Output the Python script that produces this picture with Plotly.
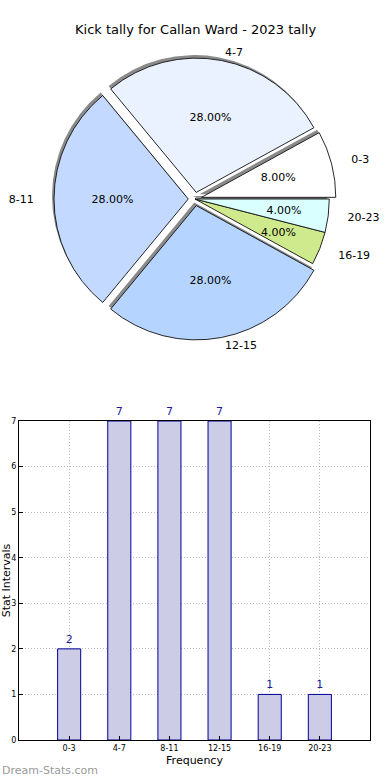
import plotly.graph_objects as go

# ---- data ----
categories = ["0-3", "4-7", "8-11", "12-15", "16-19", "20-23"]
counts = [2, 7, 7, 7, 1, 1]
pie_colors = ["#ffffff", "#eaf1ff", "#c4d9ff", "#b5d4ff", "#cfea8c", "#d9ffff"]
pulls = [0.05, 0.05, 0.05, 0.05, 0.0, 0.0]
title_text = "Kick tally for Callan Ward - 2023 tally"
y_ticks = [0, 1, 2, 3, 4, 5, 6, 7]

W, H = 390, 780
FONT = "DejaVu Sans"

# first slice starts at 3 o'clock, counter-clockwise
rot = 90 - 360 * counts[0] / sum(counts)
total = sum(counts)
big = [c / total >= 0.2 for c in counts]

# slice mid-angles (degrees, counter-clockwise from 3 o'clock) decide label ring
mids, acc = [], 0.0
for c in counts:
    mids.append(acc + 180 * c / total)
    acc += 360 * c / total
vertical = [45 < m < 135 or 225 < m < 315 for m in mids]

# pie geometry (pixels)
cx, cy = 195, 199


def dom(half, dx=0, dy=0):
    return dict(x=[(cx - half + dx) / W, (cx + half + dx) / W],
                y=[1 - (cy + half - dy) / H, 1 - (cy - half - dy) / H])


R_MAIN, R_SMALLTXT = 141, 106
R_LABEL_V, R_LABEL_H = 143, 158

common = dict(labels=categories, values=counts, sort=False,
              direction="counterclockwise", rotation=rot, pull=pulls,
              hoverinfo="skip", showlegend=False)
clear = ["rgba(0,0,0,0)"] * len(categories)

fig = go.Figure()

# shadow
fig.add_trace(go.Pie(
    **common, textinfo="none",
    marker=dict(colors=["#8a8a8a"] * len(categories), line=dict(width=0)),
    domain=dom(R_MAIN, -2, 3),
))
# main pie with percents for big slices
fig.add_trace(go.Pie(
    **common, texttemplate=["%{percent:.2%}" if b else "" for b in big],
    textposition="inside", insidetextorientation="horizontal",
    textfont=dict(family=FONT, size=11, color="black"),
    marker=dict(colors=pie_colors, line=dict(width=0.9, color="#111111")),
    domain=dom(R_MAIN),
))
# percents for the small slices, placed nearer the centre
fig.add_trace(go.Pie(
    **common, texttemplate=["" if b else "%{percent:.2%}" for b in big],
    textposition="inside", insidetextorientation="horizontal",
    textfont=dict(family=FONT, size=11, color="black"),
    marker=dict(colors=clear, line=dict(width=0)),
    domain=dom(R_SMALLTXT),
))
# outside labels (two rings: top/bottom slices and side slices)
for radius, want in ((R_LABEL_V, True), (R_LABEL_H, False)):
    fig.add_trace(go.Pie(
        **common, texttemplate=["%{label}" if v == want else "" for v in vertical],
        textposition="outside",
        textfont=dict(family=FONT, size=11, color="black"),
        marker=dict(colors=clear, line=dict(width=0)),
        domain=dom(radius),
    ))

# bar chart
fig.add_trace(go.Bar(
    x=categories, y=counts, width=0.46,
    marker=dict(color="#ccccE6", line=dict(color="#000099", width=1)),
    text=[str(c) for c in counts], textposition="outside", cliponaxis=False,
    constraintext="none",
    textfont=dict(family=FONT, size=11, color="#1a1a99"),
    hoverinfo="skip", showlegend=False,
))

grid = dict(showgrid=True, gridcolor="#b8b8b8", griddash="1px,2px", gridwidth=1)
fig.update_layout(
    width=W, height=H, margin=dict(l=0, r=0, t=0, b=0, autoexpand=False),
    paper_bgcolor="white", plot_bgcolor="white",
    font=dict(family=FONT, color="black"),
    uniformtext=dict(minsize=11, mode="show"),
    bargap=0,
    xaxis=dict(
        domain=[19 / W, 370 / W], range=[-1, 6], type="category", automargin=False,
        showline=True, linecolor="black", linewidth=1, mirror=True,
        ticks="inside", ticklen=4, tickcolor="black", **grid,
        tickfont=dict(family=FONT, size=8, color="black"),
        title=dict(text="Frequency", font=dict(family=FONT, size=11), standoff=4),
        zeroline=False, fixedrange=True,
    ),
    yaxis=dict(
        domain=[1 - 740 / H, 1 - 421 / H], range=[0, 7], tickvals=y_ticks, automargin=False,
        showline=True, linecolor="black", linewidth=1, mirror=True,
        ticks="inside", ticklen=4, tickcolor="black", **grid,
        tickfont=dict(family=FONT, size=8, color="black"),
        title=dict(text="Stat Intervals", font=dict(family=FONT, size=11), standoff=2),
        zeroline=False, fixedrange=True,
    ),
    annotations=[
        dict(text=title_text, x=0.5, y=1 - 30 / H, xref="paper", yref="paper",
             xanchor="center", yanchor="middle", showarrow=False,
             font=dict(family=FONT, size=13, color="black")),
        dict(text="Dream-Stats.com", x=0, y=1 - 770 / H, xref="paper", yref="paper",
             xanchor="left", yanchor="middle", showarrow=False,
             font=dict(family=FONT, size=11, color="#9a9a9a")),
    ],
)

fig.write_html(
    "out.html",
    config={"displayModeBar": False, "staticPlot": True},
    post_script="document.body.style.margin='0';document.body.style.overflow='hidden';",
)
